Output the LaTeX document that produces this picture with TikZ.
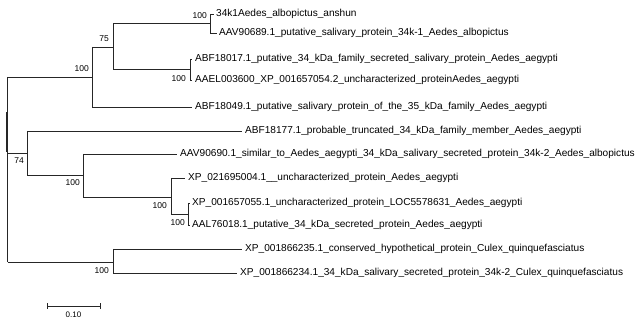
\documentclass[tikz,border=0pt]{standalone}
\usepackage{fontspec}
\setmainfont{Liberation Sans}
\begin{document}
\begin{tikzpicture}[x=1pt,y=-1pt,
  br/.style={line width=0.8pt,black!85},
  leaf/.style={anchor=west,inner sep=0pt,font=\fontsize{10.1}{11}\selectfont},
  sup/.style={anchor=east,inner sep=0pt,font=\fontsize{8.5}{9}\selectfont}]
\useasboundingbox (0,0) rectangle (640,320);
% inner node coordinates (vertical extents)
\coordinate (rT) at (7.5,77);   \coordinate (rB) at (7.5,262);
\coordinate (aT) at (92,47);    \coordinate (aB) at (92,107);
\coordinate (bT) at (113,23.5); \coordinate (bB) at (113,69.5);
\coordinate (cT) at (210,14);   \coordinate (cB) at (210,33);
\coordinate (dT) at (190,59);   \coordinate (dB) at (190,80);
\coordinate (eT) at (27,131);   \coordinate (eB) at (27,175);
\coordinate (fT) at (83,154);   \coordinate (fB) at (83,197);
\coordinate (gT) at (171,178);  \coordinate (gB) at (171,214);
\coordinate (hT) at (188,203);  \coordinate (hB) at (188,225);
\coordinate (kT) at (113,249);  \coordinate (kB) at (113,273);
% leaves
\node[leaf] (l1) at (216,14) {34k1Aedes\_albopictus\_anshun};
\node[leaf] (l2) at (219,33) {AAV90689.1\_putative\_salivary\_protein\_34k-1\_Aedes\_albopictus};
\node[leaf] (l3) at (195,59) {ABF18017.1\_putative\_34\_kDa\_family\_secreted\_salivary\_protein\_Aedes\_aegypti};
\node[leaf] (l4) at (195,80) {AAEL003600\_XP\_001657054.2\_uncharacterized\_proteinAedes\_aegypti};
\node[leaf] (l5) at (195,107) {ABF18049.1\_putative\_salivary\_protein\_of\_the\_35\_kDa\_family\_Aedes\_aegypti};
\node[leaf] (l6) at (245,131) {ABF18177.1\_probable\_truncated\_34\_kDa\_family\_member\_Aedes\_aegypti};
\node[leaf] (l7) at (180,154) {AAV90690.1\_similar\_to\_Aedes\_aegypti\_34\_kDa\_salivary\_secreted\_protein\_34k-2\_Aedes\_albopictus};
\node[leaf] (l8) at (188,178) {XP\_021695004.1\_\_uncharacterized\_protein\_Aedes\_aegypti};
\node[leaf] (l9) at (192,203) {XP\_001657055.1\_uncharacterized\_protein\_LOC5578631\_Aedes\_aegypti};
\node[leaf] (l10) at (192,225) {AAL76018.1\_putative\_34\_kDa\_secreted\_protein\_Aedes\_aegypti};
\node[leaf] (l11) at (245,249) {XP\_001866235.1\_conserved\_hypothetical\_protein\_Culex\_quinquefasciatus};
\node[leaf] (l12) at (240,273) {XP\_001866234.1\_34\_kDa\_salivary\_secreted\_protein\_34k-2\_Culex\_quinquefasciatus};
% verticals
\foreach \n in {r,a,b,c,d,e,f,g,h,k} \draw[br] (\n T) -- (\n B);
\draw[line width=1.4pt,black!85] (7,112) -- (7,152);
% horizontals between inner nodes
\draw[br] (rT) -- (aB |- rT);
\draw[br] (aT) -- (bT |- aT);
\draw[br] (bT) -- (cT |- bT);
\draw[br] (bB) -- (dT |- bB);
\draw[br] (rT |- 0,153) -- (eT |- 0,153);
\draw[br] (eB) -- (fT |- eB);
\draw[br] (fB) -- (gT |- fB);
\draw[br] (gB) -- (hT |- gB);
\draw[br] (rB) -- (kT |- rB);
% horizontals to leaves
\draw[br] (cT) -- ([xshift=-2pt]l1.west);
\draw[br] (cB) -- ([xshift=-2pt]l2.west);
\draw[br] (dT) -- ([xshift=-3pt]l3.west);
\draw[br] (dB) -- ([xshift=-3pt]l4.west);
\draw[br] (aB) -- ([xshift=-3pt]l5.west);
\draw[br] (eT) -- ([xshift=-3pt]l6.west);
\draw[br] (fT) -- ([xshift=-3pt]l7.west);
\draw[br] (gT) -- ([xshift=-3pt]l8.west);
\draw[br] (hT) -- ([xshift=-2pt]l9.west);
\draw[br] (hB) -- ([xshift=-2pt]l10.west);
\draw[br] (kT) -- ([xshift=-3pt]l11.west);
\draw[br] (kB) -- ([xshift=-3pt]l12.west);
% support values
\node[sup] (s1) at (89,69) {100};
\node[sup] (s2) at (109,39) {75};
\node[sup] (s3) at (207,16) {100};
\node[sup] (s4) at (186,79) {100};
\node[sup] (s5) at (24,161) {74};
\node[sup] (s6) at (80,183) {100};
\node[sup] (s7) at (167,206) {100};
\node[sup] (s8) at (185,223) {100};
\node[sup] (s9) at (109,271) {100};
% scale bar
\coordinate (sbL) at (47,306); \coordinate (sbR) at (100,306);
\draw[br] (sbL) -- (sbR);
\draw[br] ([yshift=-3pt]sbL) -- ([yshift=3pt]sbL);
\draw[br] ([yshift=-3pt]sbR) -- ([yshift=3pt]sbR);
\node[inner sep=0pt,font=\fontsize{8}{9}\selectfont] (sbt) at (73.5,315) {0.10};
\end{tikzpicture}
\end{document}
